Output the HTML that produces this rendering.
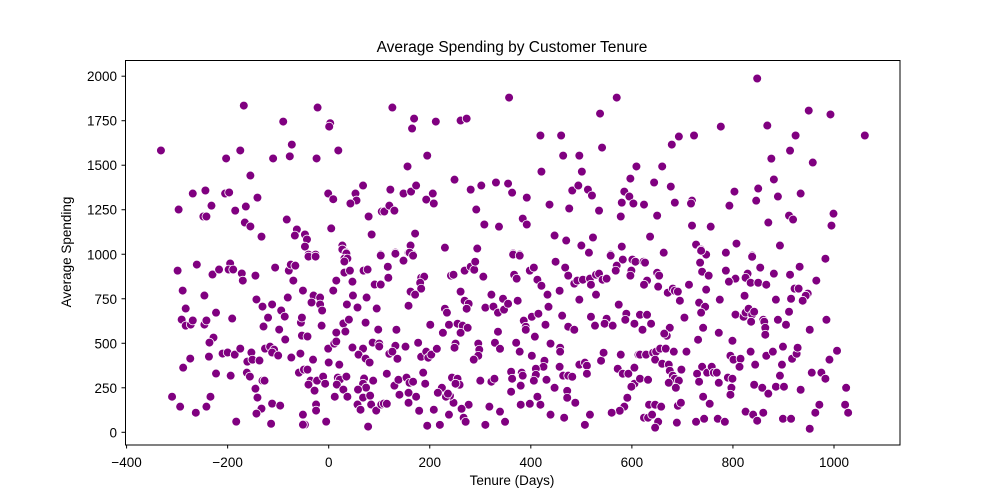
<!DOCTYPE html>
<html><head><meta charset="utf-8"><style>
html,body{margin:0;padding:0;background:#fff;}
svg{display:block;font-family:"Liberation Sans","DejaVu Sans",sans-serif;}
</style></head><body>
<svg id="chart" width="1000" height="500" viewBox="0 0 1000 500">
<rect x="0" y="0" width="1000" height="500" fill="#fff"/>
<text x="512" y="52" text-anchor="middle" font-size="15.5" fill="#000">Average Spending by Customer Tenure</text>
<g id="points"></g>
<g id="axes"></g>
<rect x="125.5" y="60.5" width="774.5" height="384.5" fill="none" stroke="#000" stroke-width="1"/>
<text x="512" y="485" text-anchor="middle" font-size="13.5" fill="#000">Tenure (Days)</text>
<text x="71" y="252" text-anchor="middle" font-size="13.5" fill="#000" transform="rotate(-90 71 252)">Average Spending</text>
</svg>
<script>
const xTicks=[-400,-200,0,200,400,600,800,1000];
const yTicks=[0,250,500,750,1000,1250,1500,1750,2000];
const tenureSpending=[
[-168,1835],[-22,1824],[-90,1745],[3,1736],[1,1717],[-73,1616],[-175,1583],[19,1583],[-203,1538],[-110,1538],[-77,1550],[-24,1538],[-155,1442],[-269,1341],[-244,1358],[-205,1341],[-197,1347],[-141,1318],[-1,1341],[9,1309],[68,1386],[53,1341],[55,1302],[43,1285],[-297,1251],[-232,1273],[-164,1268],[-185,1245],[-248,1212],[-242,1212],[-83,1195],[79,1212],[105,1240],[-166,1178],[-155,1156],[-63,1139],[5,1145],[-133,1099],[-67,1105],[-47,1111],[-43,1083],[85,1111],[-47,1043],[27,1049],[27,1027],[35,1009],[-40,998],[-26,998],[103,998],[-332,1583],
[-40,987],[-26,987],[35,1004],[31,976],[37,976],[31,959],[103,993],[-299,908],[-261,942],[-230,886],[-217,914],[-195,948],[-198,914],[-189,914],[-172,892],[-170,852],[-145,880],[-106,925],[-79,908],[-75,942],[-66,936],[-70,852],[15,852],[31,897],[42,908],[47,846],[69,908],[77,914],[91,830],[103,830],
[-289,796],[-246,768],[-81,757],[-51,796],[-30,768],[-17,757],[9,796],[48,768],[75,757],[-143,746],[-131,706],[-112,718],[-94,684],[-87,650],[-34,729],[-17,718],[-13,684],[36,718],[57,701],[95,695],
[-283,695],[-291,633],[-283,599],[-273,605],[-269,628],[-246,605],[-242,628],[-223,672],[-191,639],[-120,644],[-129,594],[-98,577],[-55,616],[-53,644],[-14,599],[29,611],[40,633],[73,616],[98,577],[15,560],[33,566],
[-228,532],[-236,504],[-86,521],[-53,543],[-42,538],[87,504],[100,498],[100,482],
[-274,414],[-288,363],[-237,425],[-210,442],[-200,448],[-186,436],[-175,470],[-153,448],[-161,397],[-151,408],[-137,403],[-126,470],[-116,481],[-108,464],[-112,448],[-100,431],[-74,420],[-56,442],[-31,408],[-1,470],[11,498],[15,510],[47,476],[68,470],[59,436],[73,414],[81,392],[0,392],[21,380],
[-223,330],[-194,318],[-162,335],[-156,313],[-131,290],[-127,290],[-59,335],[-49,352],[-42,352],[-36,290],[-23,290],[-11,313],[-40,268],[-28,234],[-7,273],[18,307],[22,296],[35,313],[16,268],[29,240],[37,200],[70,302],[68,273],[88,290],[74,251],[58,240],[68,195],[82,206],[12,200],
[-310,200],[-294,144],[-263,110],[-242,144],[-234,200],[-145,245],[-141,195],[-133,133],[-143,105],[-112,161],[-96,150],[-25,156],[-25,122],[-51,99],[-183,60],[-114,48],[-47,43],[-51,43],[-5,60],[57,156],[63,127],[84,156],[94,122],[104,156],[109,161],[78,32],
[126,1824],[357,1880],[570,1880],[169,1762],[165,1706],[212,1745],[261,1751],[273,1762],[537,1790],[419,1667],[460,1667],[541,1599],[195,1554],[464,1554],[496,1554],[156,1493],[421,1464],[501,1464],[609,1493],[249,1419],[122,1363],[148,1341],[163,1352],[173,1386],[206,1341],[193,1307],[208,1285],[281,1363],[302,1386],[331,1403],[355,1397],[363,1346],[392,1318],[482,1358],[494,1386],[513,1363],[521,1330],[597,1425],[585,1352],[595,1324],[603,1285],[580,1290],[578,1212],[623,1279],[110,1240],[120,1273],[130,1245],[292,1251],[437,1279],[476,1257],[535,1245],[384,1200],[392,1167],[308,1167],[337,1155],[171,1116],[447,1105],[470,1077],[523,1094],[500,1049],[580,1043],[162,1049],[230,1037],[294,1032],[132,1009],[158,1009],[167,998],[365,1004],[378,998],[515,1009],[558,998],
[132,1003],[148,964],[160,1009],[167,992],[117,930],[118,868],[183,868],[189,874],[181,840],[183,807],[162,790],[171,773],[158,711],[242,880],[247,885],[269,908],[281,930],[288,913],[290,958],[306,874],[261,790],[322,773],[269,739],[277,722],[273,694],[310,700],[326,706],[335,672],[347,689],[345,750],[355,722],[374,739],[365,998],[378,992],[367,885],[372,863],[398,908],[406,925],[413,857],[421,823],[449,958],[468,925],[474,880],[433,773],[457,795],[435,705],[486,835],[492,852],[503,857],[517,863],[519,829],[529,885],[535,891],[542,857],[550,863],[496,745],[529,773],[515,1009],[558,992],[582,970],[570,936],[568,908],[601,970],[607,958],[599,908],[597,880],[623,958],[574,717],[589,666],[615,661],[587,632],[605,610],[621,576],[623,829],[519,649],[527,599],[550,638],[546,610],[562,599],[462,655],[474,593],[486,576],[386,627],[390,593],[390,576],[402,649],[415,666],[429,604],[201,604],[226,559],[238,604],[255,610],[265,599],[275,587],[261,559],[230,694],[234,672],[134,576],[132,486],[152,481],[120,441],[126,453],[136,413],[177,503],[183,424],[193,453],[197,419],[203,436],[214,469],[251,498],[249,475],[296,498],[298,464],[296,430],[287,408],[335,565],[329,503],[339,469],[371,503],[378,453],[408,537],[402,430],[439,498],[458,475],[458,453],[427,402],[425,368],[457,368],[410,357],[408,312],[410,323],[406,290],[382,335],[384,318],[361,340],[363,301],[380,262],[361,228],[398,160],[380,155],[419,155],[413,200],[431,295],[447,250],[472,233],[472,194],[488,166],[464,318],[474,318],[482,312],[496,380],[507,391],[511,374],[511,329],[539,402],[544,447],[578,436],[572,357],[582,329],[593,329],[605,363],[617,301],[613,436],[625,436],[605,273],[599,256],[591,194],[585,144],[576,121],[560,110],[624,82],[439,99],[466,82],[507,42],[517,99],[339,116],[349,59],[318,144],[310,42],[277,155],[263,132],[267,82],[271,59],[238,99],[220,42],[195,37],[208,127],[247,166],[240,205],[232,200],[224,250],[216,222],[236,217],[244,307],[255,301],[259,267],[251,273],[191,273],[187,335],[173,200],[158,166],[179,121],[158,222],[140,211],[130,262],[138,295],[154,307],[160,278],[167,284],[115,329],[115,160],[300,290],[322,284],[328,301],
[848,1987],[950,1807],[993,1785],[776,1717],[868,1723],[693,1661],[723,1667],[679,1616],[924,1667],[1061,1667],[913,1582],[876,1537],[958,1515],[660,1493],[644,1403],[677,1380],[881,1420],[850,1369],[803,1352],[934,1341],[889,1324],[846,1301],[624,1279],[685,1290],[719,1301],[717,1285],[793,1273],[650,1217],[911,1217],[919,1195],[999,1228],[995,1161],[870,1178],[719,1161],[756,1155],[636,1099],[727,1054],[737,1026],[807,1060],[893,1049],[663,1009],[747,998],[786,1009],[838,992],
[737,1020],[735,953],[838,986],[983,975],[626,953],[650,896],[654,880],[630,852],[624,829],[652,818],[739,902],[752,880],[786,908],[805,863],[792,846],[829,891],[825,868],[835,840],[850,840],[866,829],[854,925],[881,891],[913,885],[932,930],[965,852],[671,784],[681,807],[685,795],[691,790],[713,829],[695,739],[747,801],[922,807],[930,807],[948,779],[944,767],[938,739],[885,745],[915,750],[823,767],[774,745],[733,728],[745,705],[737,672],[616,660],[630,660],[638,610],[621,576],[704,644],[675,587],[669,542],[664,554],[741,587],[731,520],[772,559],[805,661],[821,649],[825,672],[831,694],[838,661],[842,677],[836,621],[860,632],[862,621],[864,587],[864,548],[889,632],[905,604],[911,677],[952,576],[985,632],[799,514],[616,436],[628,436],[642,447],[648,453],[656,470],[667,470],[683,453],[708,453],[646,408],[660,385],[673,380],[675,346],[681,318],[685,301],[693,290],[673,278],[687,250],[698,352],[616,301],[632,295],[739,368],[729,329],[733,284],[749,335],[758,368],[762,335],[768,335],[772,278],[795,430],[801,408],[815,413],[813,368],[835,453],[844,380],[790,307],[799,301],[797,250],[795,211],[866,430],[879,453],[899,481],[917,413],[926,441],[928,475],[897,380],[893,318],[842,267],[858,250],[870,217],[885,256],[901,256],[934,239],[956,335],[975,335],[983,301],[991,408],[1006,458],[1024,250],[1022,155],[1028,110],[971,155],[963,110],[952,20],[741,200],[754,160],[634,155],[646,155],[658,144],[632,82],[640,99],[652,59],[646,26],[691,149],[697,166],[689,54],[727,59],[743,76],[770,76],[784,59],[825,116],[840,99],[848,65],[860,110],[899,76],[915,76]
];
const tenure=tenureSpending.map(p=>p[0]);
const spending=tenureSpending.map(p=>p[1]);

const NS="http://www.w3.org/2000/svg";
function xScale(v){return 328.7+(v-0)*0.5053;}
function yScale(v){return 432.3-v*0.17805;}
const axes=document.getElementById('axes');
const pts=document.getElementById('points');
function mk(tag,attrs,parent){const e=document.createElementNS(NS,tag);for(const k in attrs)e.setAttribute(k,attrs[k]);parent.appendChild(e);return e;}
xTicks.forEach(t=>{
  const x=xScale(t);
  const l=mk('line',{x1:x,x2:x,y1:445,y2:448.5,stroke:'#000','stroke-width':1},axes);
  
  
  const tx=mk('text',{x:x,y:467,'text-anchor':'middle','font-size':13.5,fill:'#000'},axes);
  tx.textContent=String(t).replace('-','\u2212');
  
  
});
yTicks.forEach(t=>{
  const y=yScale(t);
  const l=mk('line',{x1:121.5,x2:125.5,y1:y,y2:y,stroke:'#000','stroke-width':1},axes);
  
  
  const tx=mk('text',{x:117,y:y+5,'text-anchor':'end','font-size':13.5,fill:'#000'},axes);
  tx.textContent=String(t);
  
  
});
for(let i=0;i<tenure.length;i++){
  const c=mk('circle',{cx:xScale(tenure[i]),cy:yScale(spending[i]),r:4.4,fill:'#800080',stroke:'#fff','stroke-width':0.8},pts);
  
  
}
</script>
</body></html>
